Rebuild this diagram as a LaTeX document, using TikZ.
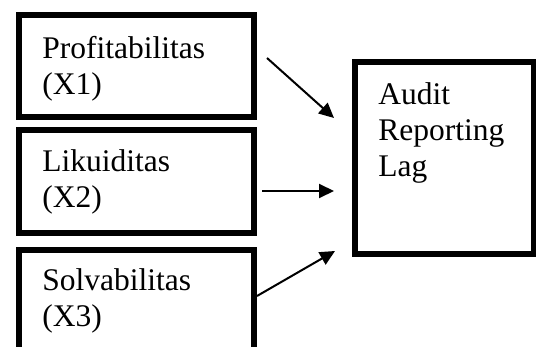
\documentclass[tikz,border=0pt]{standalone}
\usepackage{fontspec}
\setmainfont{Liberation Serif}
\usetikzlibrary{arrows.meta,positioning,calc}

\begin{document}
\begin{tikzpicture}[x=0.5pt,y=-0.5pt,
  varbox/.style={
    rectangle, draw=black, line width=3pt, inner sep=0pt,
    minimum width=117.5pt, minimum height=51.25pt
  },
  depbox/.style={varbox, minimum width=89.5pt, minimum height=96pt},
  boxtext/.style={
    anchor=base west, align=left, inner sep=0pt,
    font=\fontsize{15.75}{18}\selectfont
  },
  conn/.style={-{Triangle[length=7.5pt,width=7pt]}, line width=1pt, draw=black}
]
\useasboundingbox (0,0) rectangle (536,347);
\clip (0,0) rectangle (536,347);

% independent variables
\node[varbox] (x1) at (136.5,66.25)  {};
\node[varbox] (x2) at (136.5,181.75) {};
\node[varbox] (x3) at (136.5,301.25) {};
\node[boxtext] (t1) at (42,95)  {Profitabilitas\\(X1)};
\node[boxtext] (t2) at (42,208) {Likuiditas\\(X2)};
\node[boxtext] (t3) at (42,327) {Solvabilitas\\(X3)};

% dependent variable
\node[depbox] (y) at (444.5,158.5) {};
\node[boxtext] (ty) at (378,177) {Audit\\Reporting\\Lag};

% arrows
\coordinate (s1) at (267,58);
\coordinate (e1) at (334,118);
\coordinate (s2) at (262,191);
\coordinate (e2) at (334,191);
\coordinate (e3) at (335,251);
\draw[conn] (s1) -- (e1);
\draw[conn] (s2) -- (e2);
\draw[conn] (x3.east |- 0,296) -- (e3);
\end{tikzpicture}
\end{document}
